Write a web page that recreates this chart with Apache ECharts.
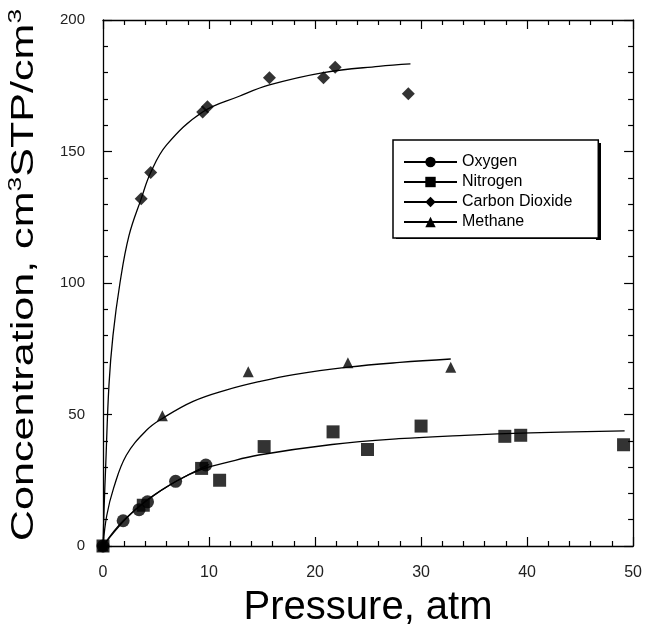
<!DOCTYPE html>
<html>
<head>
<meta charset="utf-8">
<script src="https://cdn.jsdelivr.net/npm/echarts@6/dist/echarts.min.js"></script>
<style>
html,body{margin:0;padding:0;background:#fff;}
#chart{width:645px;height:633px;}
</style>
</head>
<body>
<div id="chart"></div>
<script>
// ---- data ----
var legendNames = ['Oxygen', 'Nitrogen', 'Carbon Dioxide', 'Methane'];

// measured points
var o2P = [0, 1.9, 3.4, 4.2, 6.85, 9.7];
var o2C = [0, 9.6, 13.8, 16.8, 24.6, 30.8];

var n2P = [0, 3.8, 9.3, 11.0, 15.2, 21.7, 24.95, 30.0, 37.9, 39.4, 49.1];
var n2C = [0, 15.5, 29.5, 25.0, 37.8, 43.4, 36.7, 45.6, 41.7, 42.1, 38.5];

var co2P = [0, 3.6, 4.5, 9.4, 9.85, 15.7, 20.8, 21.9, 28.8];
var co2C = [0, 132, 142, 165, 167, 178, 178, 182, 172];

var ch4P = [0, 5.6, 13.7, 23.1, 32.8];
var ch4C = [0, 49.5, 66.3, 69.7, 68.0];

// fitted curves
var o2FitP = [0, 1, 2, 4, 6, 8, 10];
var o2FitC = [0, 5.5, 10, 17, 22.5, 27, 31];

var n2FitP = [0, 2.2, 4.1, 6.9, 9.4, 11.6, 14.7, 21.6, 27.9, 34.1, 40.3, 49.2];
var n2FitC = [0, 10.5, 17.2, 24.6, 29.3, 31.7, 34.6, 38.6, 40.8, 42.1, 43.0, 43.8];

var co2FitP = [0, 0.1, 0.25, 0.56, 0.94, 1.6, 2.45, 3.6, 4.5, 6, 9.4, 12.85, 15.7, 20.8, 26, 29];
var co2FitC = [0, 14, 30, 61, 80, 100, 118, 132, 142, 152.5, 165, 171, 175.3, 180, 182.4, 183.3];

var ch4FitP = [0, 0.35, 1, 2.2, 4.1, 5.6, 8.5, 11.6, 14.7, 18, 23.1, 28, 32.8];
var ch4FitC = [0, 11.5, 22, 34.5, 44, 48.5, 55, 59.3, 62.5, 65.2, 68, 69.8, 71.1];

var xTicks = {min: 0, max: 50, interval: 10};
var yTicks = {min: 0, max: 200, interval: 50};

function zip(a, b) { return a.map(function (v, i) { return [v, b[i]]; }); }

var FONT = 'Liberation Sans, Arial, Helvetica, sans-serif';

function fitSeries(name, p, c, symbol) {
  return {
    name: name, type: 'line', data: zip(p, c),
    symbol: symbol, showSymbol: false, smooth: 0.4,
    lineStyle: {color: '#000', width: 1.3}, itemStyle: {color: '#000'},
    silent: true, z: 2
  };
}
function pointSeries(name, p, c, symbol, size) {
  return {
    name: name + ' (data)', type: 'scatter', data: zip(p, c),
    symbol: symbol, symbolSize: size, itemStyle: {color: '#000'},
    clip: false, z: 3
  };
}

function makeX(pos, showLabel) {
  return {
    type: 'value', position: pos, min: xTicks.min, max: xTicks.max, interval: xTicks.interval,
    axisLine: {show: true, onZero: false, lineStyle: {color: '#000', width: 1.3}},
    axisTick: {show: true, inside: true, length: 9, lineStyle: {color: '#000', width: 1.2}},
    minorTick: {show: true, splitNumber: 5, length: 5, lineStyle: {color: '#000', width: 1.2}},
    splitLine: {show: false}, minorSplitLine: {show: false},
    axisLabel: {show: showLabel, fontSize: 16, color: '#222', margin: 19, fontFamily: FONT, showMaxLabel: true},
    name: showLabel ? 'Pressure, atm' : '', nameLocation: 'middle', nameGap: 42,
    nameTextStyle: {fontSize: 40, color: '#000', fontFamily: FONT}
  };
}
function makeY(pos, showLabel) {
  return {
    type: 'value', position: pos, min: yTicks.min, max: yTicks.max, interval: yTicks.interval,
    axisLine: {show: true, onZero: false, lineStyle: {color: '#000', width: 1.3}},
    axisTick: {show: true, inside: true, length: 9, lineStyle: {color: '#000', width: 1.2}},
    minorTick: {show: true, splitNumber: 5, length: 5, lineStyle: {color: '#000', width: 1.2}},
    splitLine: {show: false}, minorSplitLine: {show: false},
    axisLabel: {show: showLabel, fontSize: 15, color: '#222', margin: 18, fontFamily: FONT}
  };
}

var chart = echarts.init(document.getElementById('chart'), null, {renderer: 'canvas'});
chart.setOption({
  animation: false,
  backgroundColor: '#fff',
  grid: {left: 103, right: 9, top: 20, bottom: 79, containLabel: false},
  xAxis: [makeX('bottom', true), makeX('top', false)],
  yAxis: [makeY('left', true), makeY('right', false)],
  legend: {
    orient: 'vertical', left: 393, top: 140,
    data: legendNames,
    itemWidth: 53, itemHeight: 13, itemGap: 4,
    padding: [14, 26, 8, 10],
    textStyle: {fontSize: 16, color: '#000', fontFamily: FONT},
    borderColor: '#000', borderWidth: 1.5, borderRadius: 0,
    backgroundColor: '#fff',
    selectedMode: false,
    z: 10
  },
  graphic: [
    {
      // drop shadow of the legend box (decoration)
      type: 'group', z: 9,
      children: [
        {type: 'rect', shape: {x: 596, y: 143, width: 5, height: 97}, style: {fill: '#000'}},
        {type: 'rect', shape: {x: 396, y: 237, width: 205, height: 2}, style: {fill: '#000'}}
      ]
    },
    {
      type: 'text',
      x: 24, y: 275,
      rotation: Math.PI / 2,
      scaleX: 1.39,
      style: {
        text: '{a|Concentration, cm}{s|3}{a|STP/cm}{s|3}',
        align: 'center', verticalAlign: 'middle',
        fill: '#000',
        rich: {
          a: {fontSize: 31, fontFamily: FONT, fill: '#000', lineHeight: 36},
          s: {fontSize: 19, fontFamily: FONT, fill: '#000', verticalAlign: 'top', lineHeight: 19}
        }
      }
    }
  ],
  series: [
    fitSeries('Oxygen', o2FitP, o2FitC, 'circle'),
    fitSeries('Nitrogen', n2FitP, n2FitC, 'rect'),
    fitSeries('Carbon Dioxide', co2FitP, co2FitC, 'diamond'),
    fitSeries('Methane', ch4FitP, ch4FitC, 'triangle'),
    pointSeries('Oxygen', o2P, o2C, 'circle', 13),
    pointSeries('Nitrogen', n2P, n2C, 'rect', 13),
    pointSeries('Carbon Dioxide', co2P, co2C, 'diamond', 13),
    pointSeries('Methane', ch4P, ch4C, 'triangle', 11)
  ]
});
</script>
</body>
</html>
